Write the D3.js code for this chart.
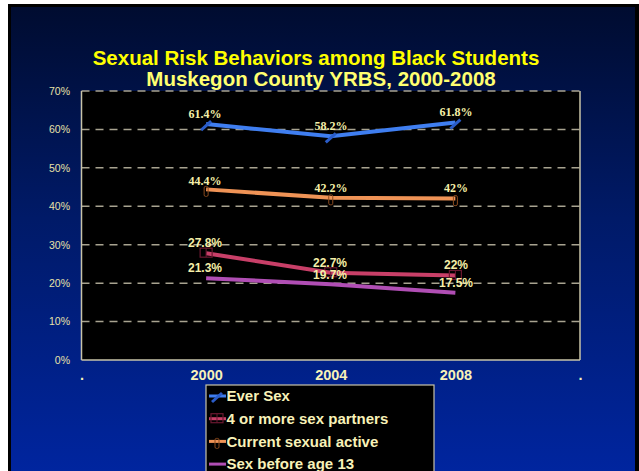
<!DOCTYPE html>
<html><head><meta charset="utf-8">
<script src="https://cdn.jsdelivr.net/npm/d3@7"></script>
<style>html,body{margin:0;padding:0;background:#fff;overflow:hidden}</style>
</head><body>
<svg id="c" width="639" height="471"></svg>
<script>
const categories = [".", "2000", "2004", "2008", ". "];
const years = ["2000", "2004", "2008"];
const everSex = [61.4, 58.2, 61.8];
const partners4 = [27.8, 22.7, 22];
const currentActive = [44.4, 42.2, 42];
const before13 = [21.3, 19.7, 17.5];
const yTicks = [0, 10, 20, 30, 40, 50, 60, 70];
const seriesNames = ["Ever Sex", "4 or more sex partners", "Current sexual active", "Sex before age 13"];
const labelText = {
  ever: ["61.4%", "58.2%", "61.8%"],
  p4: ["27.8%", "22.7%", "22%"],
  cur: ["44.4%", "42.2%", "42%"],
  b13: ["21.3%", "19.7%", "17.5%"]
};

const svg = d3.select("#c");
const defs = svg.append("defs");
const g = defs.append("linearGradient").attr("id","bg").attr("x1",0).attr("y1",0).attr("x2",0).attr("y2",1);
g.append("stop").attr("offset","0%").attr("stop-color","#000c30");
g.append("stop").attr("offset","45%").attr("stop-color","#001a68");
g.append("stop").attr("offset","100%").attr("stop-color","#0025a0");

svg.append("rect").attr("x",8).attr("y",4).attr("width",631).attr("height",480).attr("fill","#000");
svg.append("rect").attr("x",11).attr("y",7).attr("width",624).attr("height",470).attr("fill","url(#bg)");

// title
svg.append("text").attr("x",316).attr("y",65).attr("text-anchor","middle")
  .attr("font-family","Liberation Sans, Arial, sans-serif").attr("font-weight","bold").attr("font-size",20.5)
  .attr("fill","#ffff00").text("Sexual  Risk Behaviors among Black Students");
svg.append("text").attr("x",321).attr("y",86).attr("text-anchor","middle")
  .attr("font-family","Liberation Sans, Arial, sans-serif").attr("font-weight","bold").attr("font-size",20.5)
  .attr("fill","#ffff70").text("Muskegon County YRBS, 2000-2008");

const L = 81.5, R = 580, T = 91, B = 360;
const x = d3.scalePoint().domain(categories).range([L, R]);
const y = d3.scaleLinear().domain([0, 70]).range([B, T]);

svg.append("rect").attr("x",L).attr("y",T).attr("width",R-L).attr("height",B-T).attr("fill","#000");

// gridlines
svg.append("g").selectAll("line").data(yTicks.filter(d=>d>0)).join("line")
  .attr("x1",L).attr("x2",R).attr("y1",d=>y(d)).attr("y2",d=>y(d))
  .attr("stroke","#a8a390").attr("stroke-width",1.5).attr("stroke-dasharray","8,6");

// axis lines
svg.append("line").attr("x1",L).attr("x2",L).attr("y1",T).attr("y2",B).attr("stroke","#c8c4a8").attr("stroke-width",1.5);
svg.append("line").attr("x1",R).attr("x2",R).attr("y1",T).attr("y2",B).attr("stroke","#c8c4a8").attr("stroke-width",1.5);
svg.append("line").attr("x1",L).attr("x2",R).attr("y1",B).attr("y2",B).attr("stroke","#c8c4a8").attr("stroke-width",1.5);

// y axis labels
const yAxis = d3.axisLeft(y).tickValues(yTicks).tickFormat(d=>d+"%").tickSize(0).tickPadding(11.5);
const ya = svg.append("g").attr("transform",`translate(${L},0)`).call(yAxis);
ya.select(".domain").remove();
ya.selectAll("text").attr("font-family","Liberation Sans, Arial, sans-serif").attr("font-size",10.5).attr("fill","#e8e2a8");

// x axis labels
const xAxis = d3.axisBottom(x).tickSize(0).tickPadding(10).tickFormat(d=>d.trim());
const xa = svg.append("g").attr("transform",`translate(0,${B})`).call(xAxis);
xa.select(".domain").remove();
xa.selectAll("text").attr("font-family","Liberation Sans, Arial, sans-serif").attr("font-weight","bold")
  .attr("font-size",14.5).attr("fill","#f8f2b8");

const series = [
  {key:"ever", vals:everSex, color:"#3f7ef0", mark:"pencil"},
  {key:"cur", vals:currentActive, color:"#ef9356", mark:"bar"},
  {key:"p4", vals:partners4, color:"#c83f68", mark:"box"},
  {key:"b13", vals:before13, color:"#b04eb4", mark:"none"}
];
const line = d3.line().x((d,i)=>x(years[i])).y(d=>y(d));

function drawMark(sel, s, cx, cy){
  if (s.mark==="pencil"){
    sel.append("line").attr("x1",cx-5).attr("y1",cy+6).attr("x2",cx+5).attr("y2",cy-3)
      .attr("stroke","#2a5cc8").attr("stroke-width",3);
  } else if (s.mark==="bar"){
    sel.append("rect").attr("x",cx-2).attr("y",cy-3).attr("width",4).attr("height",10).attr("rx",1.5)
      .attr("fill","none").attr("stroke","#8a4a1e").attr("stroke-width",1);
  } else if (s.mark==="box"){
    sel.append("rect").attr("x",cx-6).attr("y",cy-5).attr("width",12).attr("height",9)
      .attr("fill","none").attr("stroke","#6a1830").attr("stroke-width",1.2);
    sel.append("line").attr("x1",cx).attr("x2",cx).attr("y1",cy-5).attr("y2",cy+4).attr("stroke","#6a1830");
  }
}

series.forEach(s=>{
  svg.append("path").datum(s.vals).attr("d",line).attr("fill","none")
    .attr("stroke",s.color).attr("stroke-width",4);
  const mg = svg.append("g");
  s.vals.forEach((v,i)=>drawMark(mg, s, x(years[i]), y(v)));
});

// data labels
const labelPos = {
  ever: [[205,118],[331,130],[456,116]],
  cur: [[205,185],[331,192],[456,192]],
  p4: [[205,247],[330,267],[456,269]],
  b13: [[205,272],[330,279],[456,287]]
};
series.forEach(s=>{
  const serif = (s.key==="ever"||s.key==="cur");
  svg.append("g").selectAll("text").data(s.vals).join("text")
    .attr("x",(d,i)=>labelPos[s.key][i][0]).attr("y",(d,i)=>labelPos[s.key][i][1])
    .attr("text-anchor","middle")
    .attr("font-family", serif ? "Liberation Serif, Times New Roman, serif" : "Liberation Sans, Arial, sans-serif")
    .attr("font-weight","bold").attr("font-size", 12)
    .attr("fill","#f5efa8")
    .text((d,i)=>labelText[s.key][i]);
});

// legend
const lg = svg.append("g");
lg.append("rect").attr("x",206).attr("y",385).attr("width",228).attr("height",100)
  .attr("fill","#000").attr("stroke","#c8c4a8").attr("stroke-width",1.2);
const legendOrder = [series[0], series[2], series[1], series[3]];
legendOrder.forEach((s,i)=>{
  const cy = 396 + i*22.7;
  lg.append("line").attr("x1",209).attr("x2",226).attr("y1",cy).attr("y2",cy).attr("stroke",s.color).attr("stroke-width",3);
  drawMark(lg, s, 217, cy);
  lg.append("text").attr("x",226.5).attr("y",cy+5.3)
    .attr("font-family","Liberation Sans, Arial, sans-serif").attr("font-weight","bold").attr("font-size",15)
    .attr("fill","#f8f2b8").text(seriesNames[i]);
});
</script>
</body></html>
